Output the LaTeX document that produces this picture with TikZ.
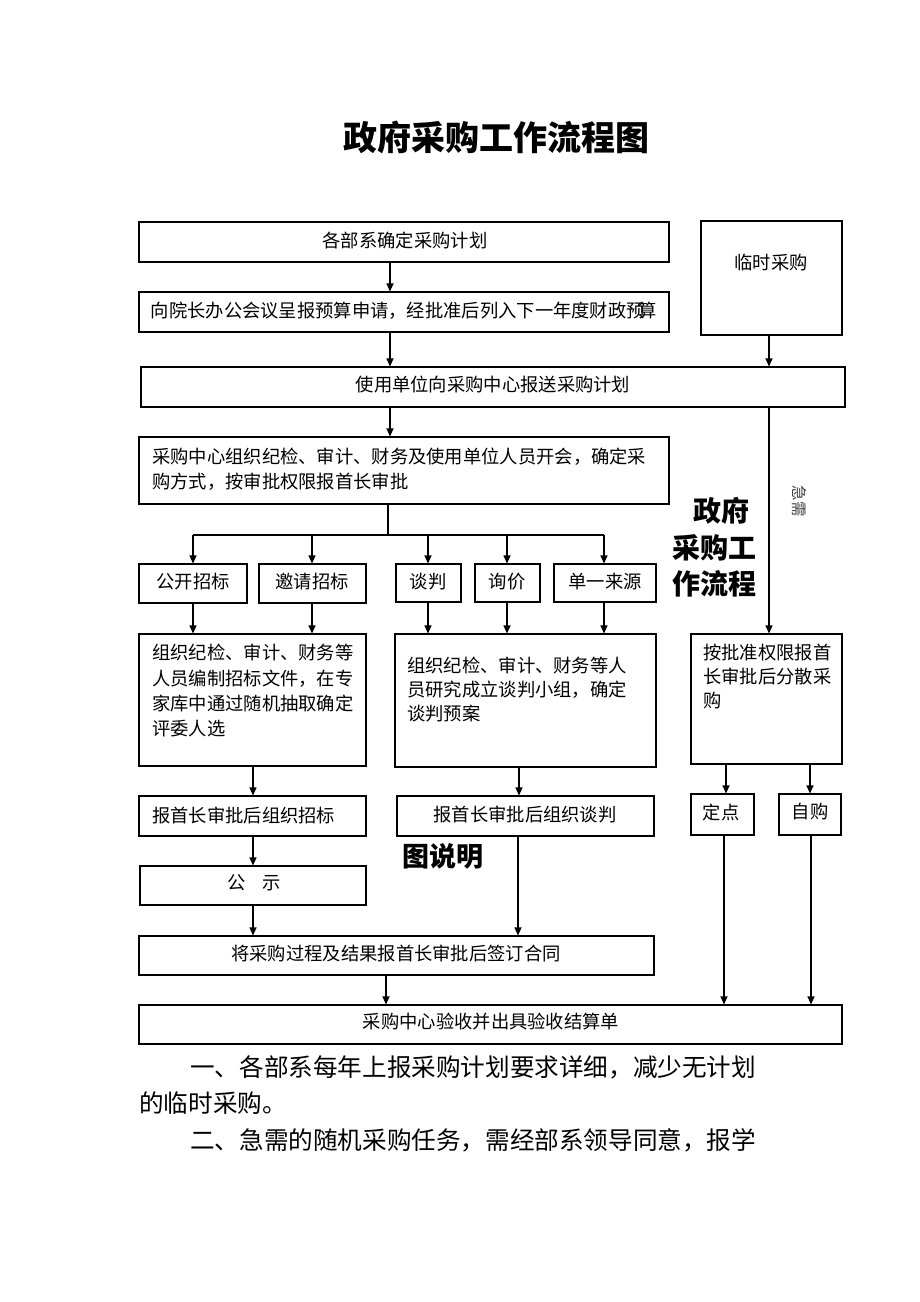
\documentclass[tikz,border=0pt]{standalone}
\usepackage{fontspec}
\setmainfont{Noto Sans CJK SC}
\usetikzlibrary{arrows.meta}
\begin{document}
\begin{tikzpicture}[x=1pt,y=-1pt]
\tikzset{
 box/.style={draw=black, line width=1.1pt, inner sep=0pt},
 arr/.style={line width=1.1pt, -{Triangle[length=8pt,width=7pt]}},
 ln/.style={line width=1.1pt},
 txt/.style={inner sep=0pt, font=\fontsize{18.3pt}{25pt}\selectfont},
 mtxt/.style={txt, anchor=north west, align=left},
 big/.style={inner sep=0pt, font=\fontsize{#1pt}{#1pt}\selectfont\bfseries},
 para/.style={inner sep=0pt, anchor=west, font=\fontsize{24.6pt}{30pt}\selectfont},
}
\newcommand\mybox[5]{\node[box, minimum width={(#4-#2)*1pt}, minimum height={(#5-#3)*1pt}] (#1) at ({(#2+#4)/2},{(#3+#5)/2}) {};}
\useasboundingbox (0,0) rectangle (920,1302);
\fill[white] (0,0) rectangle (920,1302);

% title
\node[big=34] (title) at (496,137) {政府采购工作流程图};

% boxes
\mybox{b1}{139}{222}{669}{262}
\mybox{tmp}{701}{221}{842}{335}
\mybox{b3}{139}{292}{669}{332}
\mybox{b4}{141}{367}{845}{407}
\mybox{b5}{139}{437}{669}{504}
\mybox{gk}{139}{564}{247}{603}
\mybox{yq}{259}{564}{366}{603}
\mybox{tp}{396}{564}{461}{602}
\mybox{xj}{475}{564}{540}{602}
\mybox{dy}{554}{564}{656}{602}
\mybox{lb}{139}{634}{366}{766}
\mybox{mb}{395}{634}{656}{767}
\mybox{rb}{691}{634}{842}{764}
\mybox{zb}{139}{796}{366}{836}
\mybox{ztp}{397}{796}{654}{836}
\mybox{dd}{691}{794}{754}{835}
\mybox{zg}{779}{794}{841}{835}
\mybox{gs}{140}{866}{366}{905}
\mybox{ht}{139}{936}{654}{975}
\mybox{ys}{139}{1005}{842}{1044}

% texts
\node[txt] (b1t) at (405,241) {各部系确定采购计划};
\node[txt] (tmpt) at (771,263) {临时采购};
\node[txt] (b3t) at (404,311) {向院长办公会议呈报预算申请，经批准后列入下一年度财政预\kern-6pt 算};
\node[txt] (b4t) at (493,385) {使用单位向采购中心报送采购计划};
\node[mtxt] (b5t) at (152,448) {采购中心组织纪检、审计、财务及使用单位人员开会，确定采\\购方式，按审批权限报首长审批};
\node[txt] (gkt) at (193,582) {公开招标};
\node[txt] (yqt) at (312,582) {邀请招标};
\node[txt] (tpt) at (428,582) {谈判};
\node[txt] (xjt) at (507,582) {询价};
\node[txt] (dyt) at (605,582) {单一来源};
\node[mtxt, font=\fontsize{18.3pt}{25.3pt}\selectfont] (lbt) at (152,644) {组织纪检、审计、财务等\\人员编制招标文件，在专\\家库中通过随机抽取确定\\评委人选};
\node[mtxt, font=\fontsize{18.3pt}{24pt}\selectfont] (mbt) at (407,657) {组织纪检、审计、财务等人\\员研究成立谈判小组，确定\\谈判预案};
\node[mtxt, font=\fontsize{18.3pt}{24pt}\selectfont] (rbt) at (703,644) {按批准权限报首\\长审批后分散采\\购};
\node[txt, anchor=west] (zbt) at (152,815) {报首长审批后组织招标};
\node[txt] (ztpt) at (525,815) {报首长审批后组织谈判};
\node[txt] (ddt) at (721,812) {定点};
\node[txt] (zgt) at (810,812) {自购};
\node[txt] (gst) at (254,883) {公\hspace{17pt}示};
\node[txt] (htt) at (396,953) {将采购过程及结果报首长审批后签订合同};
\node[txt] (yst) at (491,1022) {采购中心验收并出具验收结算单};

% side titles
\node[big=28, anchor=west] (s1) at (693,511) {政府};
\node[big=28, anchor=west] (s2) at (672,548) {采购工};
\node[big=28, anchor=west] (s3) at (672,584) {作流程};
\node[big=27] (s4) at (443,856) {图说明};
\node[inner sep=0pt, rotate=-90, text=black!75, font=\fontsize{15.5pt}{15.5pt}\selectfont] (jx) at (799,501) {急需};

% connectors
\draw[arr] (b1.south -| 390,0) -- (b3.north -| 390,0);
\draw[arr] (b3.south -| 390,0) -- (b4.north -| 390,0);
\draw[arr] (tmp.south -| 769,0) -- (b4.north -| 769,0);
\draw[arr] (b4.south -| 390,0) -- (b5.north -| 390,0);
\draw[arr] (b4.south -| 769,0) -- (rb.north -| 769,0);

\coordinate (br) at (388,535);
\draw[ln] (b5.south -| br) -- (br);
\draw[ln] (193,535) -- (604,535);
\draw[arr] (193,535) -- (gk.north -| 193,0);
\draw[arr] (312,535) -- (yq.north -| 312,0);
\draw[arr] (428,535) -- (tp.north -| 428,0);
\draw[arr] (507,535) -- (xj.north -| 507,0);
\draw[arr] (604,535) -- (dy.north -| 604,0);

\draw[arr] (gk.south -| 193,0) -- (lb.north -| 193,0);
\draw[arr] (yq.south -| 312,0) -- (lb.north -| 312,0);
\draw[arr] (tp.south -| 428,0) -- (mb.north -| 428,0);
\draw[arr] (xj.south -| 507,0) -- (mb.north -| 507,0);
\draw[arr] (dy.south -| 604,0) -- (mb.north -| 604,0);

\draw[arr] (lb.south -| 253,0) -- (zb.north -| 253,0);
\draw[arr] (mb.south -| 519,0) -- (ztp.north -| 519,0);
\draw[arr] (rb.south -| 726,0) -- (dd.north -| 726,0);
\draw[arr] (rb.south -| 810,0) -- (zg.north -| 810,0);

\draw[arr] (zb.south -| 253,0) -- (gs.north -| 253,0);
\draw[arr] (gs.south -| 253,0) -- (ht.north -| 253,0);
\draw[arr] (ztp.south -| 518,0) -- (ht.north -| 518,0);
\draw[arr] (ht.south -| 386,0) -- (ys.north -| 386,0);
\draw[arr] (dd.south -| 724,0) -- (ys.north -| 724,0);
\draw[arr] (zg.south -| 811,0) -- (ys.north -| 811,0);

% paragraph
\node[para] (p1) at (190,1067) {一、各部系每年上报采购计划要求详细，减少无计划};
\node[para] (p2) at (139,1103) {的临时采购。};
\node[para] (p3) at (190,1140) {二、急需的随机采购任务，需经部系领导同意，报学};
\end{tikzpicture}
\end{document}
